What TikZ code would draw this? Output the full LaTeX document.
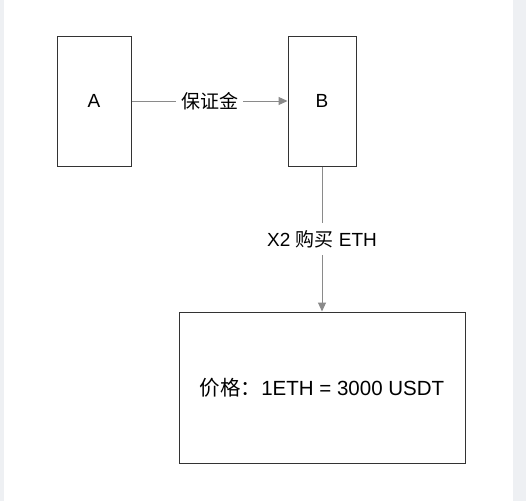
\documentclass[tikz,border=0pt]{standalone}
\usepackage{fontspec}
\setmainfont{Liberation Sans}
\newfontfamily\cjk{Noto Sans CJK SC}
\usetikzlibrary{arrows.meta}
\definecolor{edgeGray}{HTML}{8A8A8A}
\definecolor{boxLine}{HTML}{333333}
\definecolor{pageSide}{HTML}{EEF0F3}
\tikzstyle{tallBox}=[shape = rectangle, draw = boxLine, line width = 1pt, inner sep = 0pt, font = \fontsize{19}{22}\selectfont]
\tikzstyle{wideBox}=[shape = rectangle, draw = boxLine, line width = 1pt, inner sep = 0pt, font = \fontsize{20.5}{24}\selectfont]

\begin{document}
\begin{tikzpicture}[x = 1pt, y = -1pt]
\tikzstyle{flowStyle} = [draw = edgeGray, line width = 1pt, -{Triangle[length = 9pt, width = 8pt]}]
\tikzstyle{flowLabel} = [fill = white, inner sep = 5pt, font = \fontsize{19}{22}\selectfont]
\fill[white] (0,0) rectangle (526,501);
\fill[pageSide] (0,0) rectangle (4,501);
\fill[pageSide] (513,0) rectangle (526,501);
\useasboundingbox (0,0) rectangle (526,501);
\node[tallBox, minimum width = 74pt, minimum height = 130pt] (nodeA) at (94,101) {A};
\node[tallBox, minimum width = 68pt, minimum height = 130pt] (nodeB) at (322,101) {B};
\node[wideBox, minimum width = 286pt, minimum height = 151pt] (price) at (322,387.5) {{\cjk 价格：}1ETH = 3000 USDT};
\draw[flowStyle] (nodeA) -- node[flowLabel] {\cjk 保证金} (nodeB);
\draw[flowStyle] (nodeB) -- node[flowLabel, inner sep = 7pt] {X2 {\cjk 购买} ETH} (price);
\end{tikzpicture}
\end{document}
